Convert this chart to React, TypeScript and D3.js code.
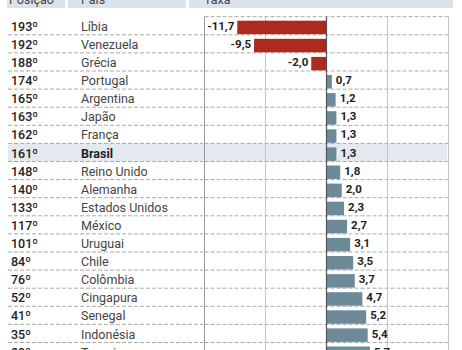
import * as d3 from "d3";
import { useEffect, useRef } from "react";

const positions = ["193º", "192º", "188º", "174º", "165º", "163º", "162º", "161º", "148º", "140º", "133º", "117º", "101º", "84º", "76º", "52º", "41º", "35º", "29º"];
const countries = ["Líbia", "Venezuela", "Grécia", "Portugal", "Argentina", "Japão", "França", "Brasil", "Reino Unido", "Alemanha", "Estados Unidos", "México", "Uruguai", "Chile", "Colômbia", "Cingapura", "Senegal", "Indonésia", "Turquia"];
const rates = [-11.7, -9.5, -2.0, 0.7, 1.2, 1.3, 1.3, 1.3, 1.8, 2.0, 2.3, 2.7, 3.1, 3.5, 3.7, 4.7, 5.2, 5.4, 5.7];
const highlight = "Brasil";
const headers = ["Posição", "País", "Taxa"];

export default function App() {
  const ref = useRef<SVGSVGElement>(null);

  useEffect(() => {
    const svg = d3.select(ref.current);
    svg.selectAll("*").remove();

    const width = 462;
    const height = 350;
    const font = "Roboto, 'Liberation Sans', sans-serif";
    const rowH = 18.1;
    const top = 16.7;

    const y = d3.scaleBand<string>()
      .domain(countries)
      .range([top, top + countries.length * rowH])
      .padding(0);
    const x = d3.scaleLinear().domain([-16, 16]).range([204.5, 448.5]);

    const data = countries.map((c, i) => ({ c, pos: positions[i], v: rates[i] }));

    // header band
    const headCells = [[7, 65], [68, 186], [189, 453]];
    svg.selectAll(".hd")
      .data(headCells)
      .enter()
      .append("rect")
      .attr("x", (d) => d[0])
      .attr("y", 0)
      .attr("width", (d) => d[1] - d[0])
      .attr("height", 8)
      .attr("fill", "#dbe3ea");
    svg.selectAll(".ht")
      .data(headers)
      .enter()
      .append("text")
      .attr("x", (d, i) => [9, 81, 204][i])
      .attr("y", 4)
      .attr("font-family", font)
      .attr("font-size", 12.5)
      .attr("fill", "#444")
      .text((d) => d);

    // highlighted row
    svg.append("rect")
      .attr("x", 8)
      .attr("y", y(highlight)!)
      .attr("width", 439)
      .attr("height", y.bandwidth())
      .attr("fill", "#e3e9ee");

    // dashed row lines
    const g = svg.append("g");
    g.selectAll(".rl")
      .data(data)
      .enter()
      .append("line")
      .attr("x1", 8)
      .attr("x2", 203)
      .attr("y1", (d) => y(d.c)! + rowH)
      .attr("y2", (d) => y(d.c)! + rowH)
      .attr("stroke", "#aaa")
      .attr("stroke-dasharray", "4,2");
    g.selectAll(".cl")
      .data([top, ...data.map((d) => y(d.c)! + rowH)])
      .enter()
      .append("line")
      .attr("x1", x(-16))
      .attr("x2", x(16))
      .attr("y1", (d) => d)
      .attr("y2", (d) => d)
      .attr("stroke", "#aaa")
      .attr("stroke-dasharray", "4,2");

    // vertical grid
    g.selectAll(".vg")
      .data([-16, -8, 8, 16])
      .enter()
      .append("line")
      .attr("x1", (d) => x(d))
      .attr("x2", (d) => x(d))
      .attr("y1", top)
      .attr("y2", height)
      .attr("stroke", (d) => (d === -16 ? "#999" : "#c4c4c4"))
      .attr("stroke-width", 1);

    // bars
    svg.selectAll(".bar")
      .data(data)
      .enter()
      .append("rect")
      .attr("x", (d) => x(Math.min(0, d.v)))
      .attr("y", (d) => y(d.c)! + 4)
      .attr("width", (d) => Math.abs(x(d.v) - x(0)))
      .attr("height", rowH - 4.6)
      .attr("fill", (d) => (d.v < 0 ? "#b0291d" : "#6d8a98"));

    // zero line
    svg.append("line")
      .attr("x1", x(0))
      .attr("x2", x(0))
      .attr("y1", top)
      .attr("y2", height)
      .attr("stroke", "#555")
      .attr("stroke-width", 1.2);

    // value labels
    const fmt = (v: number) => d3.format(".1f")(v).replace(".", ",").replace("−", "-");
    svg.selectAll(".vl")
      .data(data)
      .enter()
      .append("text")
      .attr("x", (d) => (d.v < 0 ? x(d.v) - 3 : x(d.v) + 4))
      .attr("y", (d) => y(d.c)! + rowH - 5)
      .attr("text-anchor", (d) => (d.v < 0 ? "end" : "start"))
      .attr("font-family", font)
      .attr("font-size", 11.5)
      .attr("font-weight", "bold")
      .attr("fill", "#222")
      .text((d) => fmt(d.v));

    // table text
    svg.selectAll(".pt")
      .data(data)
      .enter()
      .append("text")
      .attr("x", 11)
      .attr("y", (d) => y(d.c)! + rowH - 4)
      .attr("font-family", font)
      .attr("font-size", 12.5)
      .attr("font-weight", 500)
      .attr("fill", "#222")
      .text((d) => d.pos);
    svg.selectAll(".ct")
      .data(data)
      .enter()
      .append("text")
      .attr("x", 81)
      .attr("y", (d) => y(d.c)! + rowH - 4)
      .attr("font-family", font)
      .attr("font-size", 12.5)
      .attr("font-weight", (d) => (d.c === highlight ? "bold" : "normal"))
      .attr("fill", (d) => (d.c === highlight ? "#222" : "#444"))
      .text((d) => d.c);
  }, []);

  return (
    <svg
      ref={ref}
      width={462}
      height={350}
      style={{ position: "absolute", left: 0, top: 0, background: "#fff" }}
    />
  );
}
